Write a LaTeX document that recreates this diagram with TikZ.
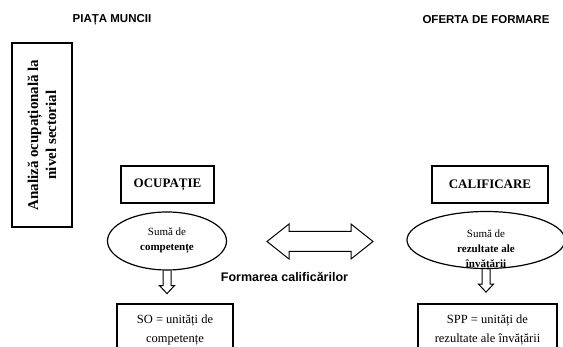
\documentclass[tikz,border=0pt]{standalone}
\usepackage{fontspec}
\setmainfont{Liberation Serif}
\newfontfamily\headfont{Liberation Sans}
\usetikzlibrary{shapes.geometric,positioning}

\tikzset{
  box/.style={draw, line width=1.1pt, align=center, inner sep=0pt},
  oval/.style={draw, ellipse, line width=1.2pt, align=center, inner sep=0pt,
    font=\fontsize{11}{15}\selectfont},
  head/.style={font=\headfont\bfseries\fontsize{11.5}{14}\selectfont},
  blockdown/.pic={
    \draw[line width=1pt] (-4,0) -- (-4,15) -- (-7.5,15) -- (0,23)
      -- (7.5,15) -- (4,15) -- (4,0);
  },
  blockboth/.pic={
    \draw[line width=1pt] (-53,0) -- (-31,-17.5) -- (-31,-10) -- (31,-10)
      -- (31,-17.5) -- (53,0) -- (31,17.5) -- (31,10) -- (-31,10)
      -- (-31,17.5) -- cycle;
  }
}

\begin{document}
\begin{tikzpicture}[x=1pt,y=-1pt]
  \useasboundingbox (0,0) rectangle (563,347);
  \path (112,20) node[head] (piata) {PIAȚA MUNCII}
        (486,20) node[head] (oferta) {OFERTA DE FORMARE};

  \node[box, rotate=90, minimum width=184pt, minimum height=60pt,
    font=\bfseries\fontsize{15}{18}\selectfont] (analiza) at (42,135)
    {Analiză ocupațională la\\nivel sectorial};

  \path (167.5,184.5) node[box, minimum width=93pt, minimum height=37pt,
          font=\bfseries\fontsize{13}{15}\selectfont] (ocup) {OCUPAȚIE}
        (490,184.5) node[box, minimum width=116pt, minimum height=37pt,
          font=\bfseries\fontsize{13}{15}\selectfont] (calif) {CALIFICARE};

  \path (167,241) node[oval, minimum width=119pt, minimum height=58pt] (sumL)
          {Sumă de\\\textbf{competențe}}
        (486,240) node[oval, minimum width=158pt, minimum height=57pt] (sumR)
          {\raisebox{-12pt}[0pt][0pt]{\begin{tabular}{@{}c@{}}Sumă de\\
            \textbf{rezultate ale}\\\textbf{învățării}\end{tabular}}};

  \path (175,330) node[box, minimum width=116pt, minimum height=52pt,
          font=\fontsize{12.5}{19}\selectfont] (so)
          {SO = unități de\\competențe}
        (487.5,330) node[box, minimum width=139pt, minimum height=52pt,
          font=\fontsize{12.5}{19}\selectfont] (spp)
          {SPP = unități de\\rezultate ale învățării};

  \node[font=\headfont\bfseries\fontsize{12.5}{15}\selectfont] (formarea)
    at (284.5,277) {Formarea calificărilor};

  \pic at (320,241.5) {blockboth};
  \pic at (sumL.south) {blockdown};
  \pic at (sumR.south) {blockdown};
\end{tikzpicture}
\end{document}
